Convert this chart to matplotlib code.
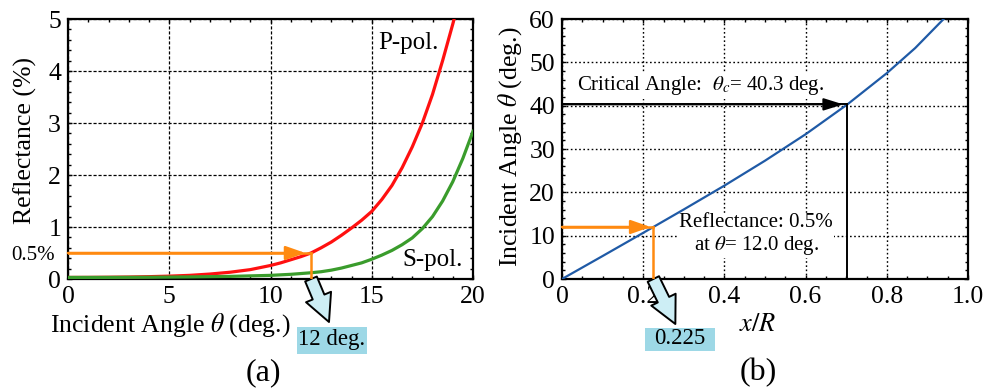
import matplotlib
matplotlib.use("Agg")
import matplotlib.pyplot as plt
from matplotlib.patches import Rectangle
from matplotlib.text import OffsetFrom
from matplotlib.ticker import MultipleLocator

plt.rcParams['font.family'] = ['Liberation Serif', 'DejaVu Serif']
plt.rcParams['mathtext.fontset'] = 'stix'

# ---------------- data ----------------
# (a) reflectance (%) vs incident angle (deg.)
p_angle = [0, 1, 2, 3, 4, 5, 6, 7, 8, 9, 10, 10.5, 11, 11.5, 12, 12.5, 13, 13.5, 14, 14.5,
           15, 15.5, 16, 16.5, 17, 17.5, 18, 18.5, 19, 19.2]
p_refl = [0.03, 0.031, 0.034, 0.038, 0.045, 0.055, 0.07, 0.095, 0.13, 0.18, 0.26, 0.31, 0.37, 0.43,
          0.50, 0.60, 0.71, 0.84, 0.98, 1.13, 1.30, 1.53, 1.80, 2.14, 2.54, 3.0, 3.55, 4.2, 4.9, 5.2]
s_angle = [0, 2, 4, 6, 8, 9, 10, 11, 12, 12.5, 13, 13.5, 14, 14.5, 15, 15.5, 16, 16.5, 17, 17.5,
           18, 18.5, 19, 19.5, 20]
s_refl = [0.03, 0.031, 0.034, 0.04, 0.05, 0.06, 0.07, 0.09, 0.12, 0.14, 0.17, 0.21, 0.26, 0.31,
          0.38, 0.46, 0.55, 0.66, 0.79, 0.97, 1.20, 1.50, 1.87, 2.32, 2.84]

# (b) incident angle (deg.) vs x/R
xr = [0, 0.1, 0.2, 0.225, 0.3, 0.4, 0.5, 0.6, 0.703, 0.8, 0.87, 0.94, 0.96]
theta = [0, 5.3, 10.65, 12, 16.05, 21.55, 27.3, 33.4, 40.3, 47.5, 53.3, 60, 62]

sel_angle = 12.0      # deg
sel_refl = 0.5        # %
sel_xr = 0.225
crit_angle = 40.3
crit_xr = 0.703

xa_ticks = [0, 5, 10, 15, 20]
ya_ticks = [0, 1, 2, 3, 4, 5]
xb_ticks = [0, 0.2, 0.4, 0.6, 0.8, 1.0]
xb_labels = ['0', '0.2', '0.4', '0.6', '0.8', '1.0']
yb_ticks = [0, 10, 20, 30, 40, 50, 60]

RED = '#ff1010'
GREEN = '#3a9c2c'
BLUE = '#1f5aa6'
ORANGE = '#ff8a10'
BOXC = '#9dd8e6'
ARROWC = '#cdeef5'

W, H = 991, 392
fig = plt.figure(figsize=(W / 100, H / 100), dpi=100)

def px_axes(l, r, t, b):
    return fig.add_axes([l / W, 1 - b / H, (r - l) / W, (b - t) / H])

axa = px_axes(68, 473, 19, 279)
axb = px_axes(562, 968, 19, 279)

for ax in (axa, axb):
    for s in ax.spines.values():
        s.set_linewidth(1.6)
    ax.tick_params(which='both', direction='in', top=True, right=True, labelsize=18.5, pad=5)
    ax.tick_params(which='major', length=3, width=1.0)
    ax.tick_params(which='minor', length=2.5, width=1.0)

# ---------------- (a) ----------------
axa.set_xlim(0, 20)
axa.set_ylim(0, 5)
axa.set_xticks(xa_ticks)
axa.set_yticks(ya_ticks)
axa.xaxis.set_minor_locator(MultipleLocator(1))
axa.yaxis.set_minor_locator(MultipleLocator(0.2))
axa.grid(True, which='major', linestyle=(0, (2.5, 1.5)), color='black', linewidth=0.9)
axa.set_axisbelow(True)

axa.plot(p_angle, p_refl, color=RED, lw=2.3, zorder=3)
axa.plot(s_angle, s_refl, color=GREEN, lw=2.3, zorder=3)

axa.plot([0, sel_angle], [sel_refl, sel_refl], color=ORANGE, lw=1.8, zorder=4)
axa.plot([sel_angle, sel_angle], [sel_refl, 0], color=ORANGE, lw=1.8, zorder=4)
axa.annotate('', xy=(sel_angle, sel_refl), xytext=(0, sel_refl),
             arrowprops=dict(arrowstyle='-|>,head_length=0.8,head_width=0.28', color=ORANGE,
                             lw=1.8, shrinkA=0, shrinkB=4, mutation_scale=15), zorder=4)

axa.text(15.3, 4.54, 'P-pol.', fontsize=18, va='center', ha='left')
axa.text(16.5, 0.37, 'S-pol.', fontsize=18, va='center', ha='left')

fig.text(33 / W, 1 - 256 / H, '0.5%', fontsize=15, ha='center', va='center')
fig.text(25 / W, 1 - 140 / H, 'Reflectance (%)', fontsize=18.5, rotation=90, ha='center', va='center')
fig.text(170 / W, 1 - 325 / H, r'Incident Angle $\theta$ (deg.)', fontsize=18.5, ha='center', va='center')
fig.text(263 / W, 1 - 373 / H, '(a)', fontsize=23, ha='center', va='center')

CALLOUT = dict(arrowstyle='simple,head_length=0.75,head_width=0.75,tail_width=0.35',
               fc=ARROWC, ec='black', lw=1.4, shrinkA=0, shrinkB=0, mutation_scale=26)

# callout arrow + box (a)
axa.annotate('', xy=(18, -43), xycoords=OffsetFrom(axa.transData, (sel_angle, 0), unit='pixels'),
             xytext=(sel_angle, 0), textcoords='data', annotation_clip=False, arrowprops=CALLOUT)
fig.add_artist(Rectangle((297 / W, 1 - 354 / H), 70 / W, 27 / H, transform=fig.transFigure,
                         facecolor=BOXC, edgecolor='none'))
fig.text(332 / W, 1 - 340 / H, '12 deg.', fontsize=16.5, ha='center', va='center')

# ---------------- (b) ----------------
axb.set_xlim(0, 1.0)
axb.set_ylim(0, 60)
axb.set_xticks(xb_ticks)
axb.set_xticklabels(xb_labels)
axb.set_yticks(yb_ticks)
axb.xaxis.set_minor_locator(MultipleLocator(0.05))
axb.yaxis.set_minor_locator(MultipleLocator(2))
axb.grid(True, which='major', linestyle=(0, (1.2, 1.8)), color='black', linewidth=1.0)
axb.set_axisbelow(True)

axb.plot(xr, theta, color=BLUE, lw=1.6, zorder=3)

axb.plot([0, sel_xr], [sel_angle, sel_angle], color=ORANGE, lw=1.8, zorder=4)
axb.plot([sel_xr, sel_xr], [sel_angle, 0], color=ORANGE, lw=1.8, zorder=4)
axb.annotate('', xy=(sel_xr, sel_angle), xytext=(0, sel_angle),
             arrowprops=dict(arrowstyle='-|>,head_length=0.8,head_width=0.28', color=ORANGE,
                             lw=1.8, shrinkA=0, shrinkB=2, mutation_scale=15), zorder=4)

axb.plot([0, crit_xr], [crit_angle, crit_angle], color='black', lw=1.4, zorder=4)
axb.plot([crit_xr, crit_xr], [crit_angle, 0], color='black', lw=1.4, zorder=4)
axb.annotate('', xy=(crit_xr, crit_angle), xytext=(0, crit_angle),
             arrowprops=dict(arrowstyle='-|>,head_length=0.8,head_width=0.25', color='black',
                             lw=1.4, shrinkA=0, shrinkB=3, mutation_scale=15), zorder=4)

axb.text(0.037, 44.6, r'Critical Angle:  $\theta_c$= 40.3 deg.', fontsize=15, ha='left', va='center',
         bbox=dict(facecolor='white', edgecolor='none', pad=1), zorder=2.5)
axb.text(0.478, 10.2, 'Reflectance: 0.5%\n' + r'at $\theta$= 12.0 deg.', fontsize=15, ha='center',
         va='center', linespacing=1.15, bbox=dict(facecolor='white', edgecolor='none', pad=1), zorder=2.5)

fig.text(510 / W, 1 - 147 / H, r'Incident Angle $\theta$ (deg.)', fontsize=18.5, rotation=90,
         ha='center', va='center')
fig.text(758 / W, 1 - 325 / H, r'$x/R$', fontsize=19, ha='center', va='center')
fig.text(758 / W, 1 - 373 / H, '(b)', fontsize=23, ha='center', va='center')

axb.annotate('', xy=(22, -45), xycoords=OffsetFrom(axb.transData, (sel_xr, 0), unit='pixels'),
             xytext=(sel_xr, 0), textcoords='data', annotation_clip=False, arrowprops=CALLOUT)
fig.add_artist(Rectangle((645 / W, 1 - 351 / H), 70 / W, 23 / H, transform=fig.transFigure,
                         facecolor=BOXC, edgecolor='none'))
fig.text(680 / W, 1 - 339 / H, '0.225', fontsize=16.5, ha='center', va='center')

fig.savefig('out.png', dpi=100)
